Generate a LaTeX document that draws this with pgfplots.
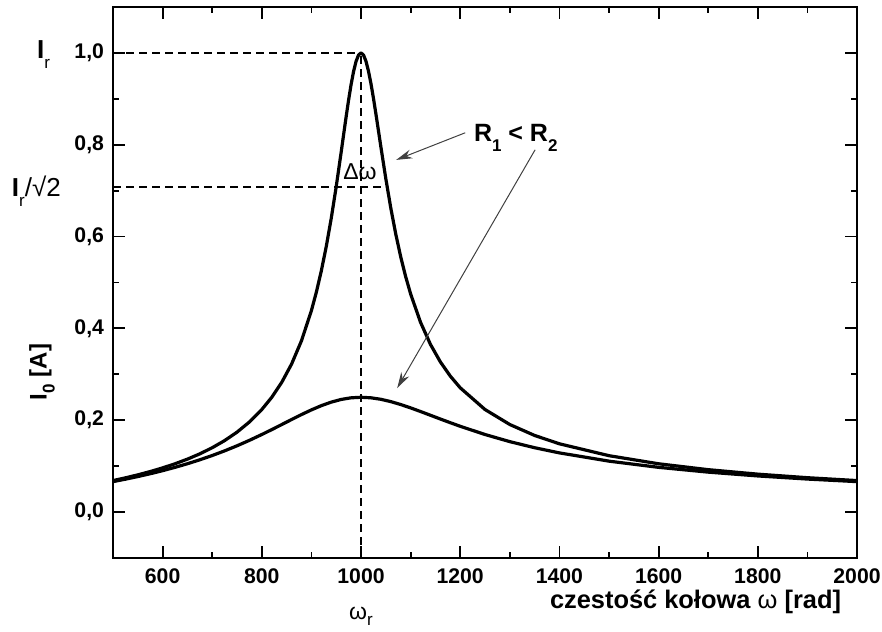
\documentclass[border=0pt]{standalone}
\usepackage{fontspec}
\setmainfont{Liberation Sans}
\usepackage{pgfplots}
\pgfplotsset{compat=1.18}
\usetikzlibrary{arrows.meta}
% lowered subscript: #1 = drop, #2 = text
\newcommand{\dn}[2]{\raisebox{-#1}{\fontsize{8.5}{9}\selectfont #2}}

\begin{document}
\begin{tikzpicture}
\begin{axis}[
  scale only axis, width=372pt, height=275.5pt,
  xmin=500, xmax=2000, ymin=-0.1, ymax=1.1,
  xtick={600,800,...,2000}, ytick={0,0.2,0.4,0.6,0.8,1.0},
  minor x tick num=1, minor y tick num=1,
  tick align=inside, major tick length=6pt, minor tick length=3pt,
  every tick/.style={line width=0.9pt, black},
  axis line style={line width=1.3pt},
  tick label style={font=\fontsize{10.6}{12}\selectfont\bfseries},
  x tick label style={yshift=-2pt},
  /pgf/number format/assume math mode=true,
  /pgf/number format/1000 sep={},
  y tick label style={xshift=-1pt, /pgf/number format/.cd, use comma, fixed, fixed zerofill, precision=1, /tikz/.cd},
  clip=false,
]
% R1 (narrow)
\addplot[black, line width=1.6pt, line join=round] coordinates {
(500,0.06857) (525,0.07451) (550,0.08103) (575,0.08821) (600,0.09620) (625,0.10515)
(650,0.11526) (675,0.12679) (700,0.14011) (725,0.15564) (750,0.17403) (775,0.19615)
(800,0.22333) (820,0.24987) (840,0.28219) (860,0.32230) (880,0.37311) (900,0.43881)
(910,0.47906) (920,0.52538) (930,0.57874) (940,0.63980) (950,0.70869) (960,0.78384)
(965,0.82257) (970,0.86089) (975,0.89756) (980,0.93103) (985,0.95959) (990,0.98152)
(995,0.99530) (1000,1.00000) (1005,0.99535) (1010,0.98187) (1015,0.96072) (1020,0.93347)
(1025,0.90185) (1030,0.86744) (1035,0.83171) (1040,0.79575) (1050,0.72612) (1060,0.66238)
(1070,0.60573) (1080,0.55612) (1090,0.51285) (1100,0.47516) (1120,0.41329) (1140,0.36518)
(1160,0.32701) (1180,0.29611) (1200,0.27066) (1250,0.22333) (1300,0.19067) (1350,0.16684)
(1400,0.14867) (1500,0.12278) (1600,0.10515) (1700,0.09233) (1800,0.08256) (1900,0.07484)
(2000,0.06857)};
% R2 (wide)
\addplot[black, line width=1.6pt, line join=round] coordinates {
(500,0.06627) (525,0.07159) (550,0.07731) (575,0.08348) (600,0.09015) (625,0.09739)
(650,0.10525) (675,0.11381) (700,0.12315) (725,0.13330) (750,0.14430) (775,0.15620)
(800,0.16891) (820,0.17956) (840,0.19049) (860,0.20151) (880,0.21232) (900,0.22253)
(920,0.23173) (940,0.23944) (960,0.24524) (980,0.24881) (1000,0.25000) (1020,0.24885)
(1040,0.24559) (1060,0.24057) (1080,0.23419) (1100,0.22687) (1120,0.21898) (1140,0.21083)
(1160,0.20264) (1180,0.19461) (1200,0.18683) (1250,0.16891) (1300,0.15338) (1350,0.14013)
(1400,0.12884) (1500,0.11088) (1600,0.09739) (1700,0.08694) (1800,0.07864) (1900,0.07188)
(2000,0.06627)};
% guide lines
\addplot[black, line width=0.9pt, dash pattern=on 4pt off 2.5pt] coordinates {(500,1) (1000,1)};
\addplot[black, line width=0.9pt, dash pattern=on 4pt off 2.5pt] coordinates {(500,0.7071) (1051,0.7071)};
\addplot[black, line width=0.9pt, dash pattern=on 4pt off 2.5pt] coordinates {(1000,-0.1) (1000,1)};

% annotations
\draw[-{Stealth[length=8pt,width=4.5pt]}, black!75, line width=0.5pt] (axis cs:1210,0.826) -- (axis cs:1071,0.767);
\draw[-{Stealth[length=8pt,width=4.5pt]}, black!75, line width=0.5pt] (axis cs:1351,0.789) -- (axis cs:1073,0.270);
\node[anchor=base, font=\fontsize{12.5}{14}\selectfont\bfseries] at (axis cs:1312,0.807) {R\dn{5pt}{\bfseries 1} < R\dn{5pt}{\bfseries 2}};
\node[font=\fontsize{11.5}{13}\selectfont] at (axis cs:998,0.742) {Δω};
\node[anchor=base west, font=\fontsize{13}{15}\selectfont] at (axis cs:333,0.988) {\textbf{I}\dn{5pt}{r}};
\node[anchor=base west, font=\fontsize{13}{15}\selectfont] at (axis cs:282,0.687) {\textbf{I}\dn{5pt}{r}/√2};
\node[rotate=90, font=\fontsize{12}{14}\selectfont\bfseries] at (axis cs:357,0.305) {I\dn{4pt}{\bfseries 0} [A]};
\node[anchor=base, font=\fontsize{11.5}{13}\selectfont] at (axis cs:1000,-0.233) {ω\dn{3pt}{r}};
\node[anchor=base east, font=\fontsize{12.7}{15}\selectfont] at (axis cs:1982,-0.209) {\textbf{czestość kołowa} ω \textbf{[rad]}};
\coordinate (bbll) at (rel axis cs:-0.1519,-0.1343);
\coordinate (bbur) at (rel axis cs:1.0336,1.0127);
\end{axis}
\pgfresetboundingbox
\path[use as bounding box] (bbll) rectangle (bbur);
\end{tikzpicture}
\end{document}
